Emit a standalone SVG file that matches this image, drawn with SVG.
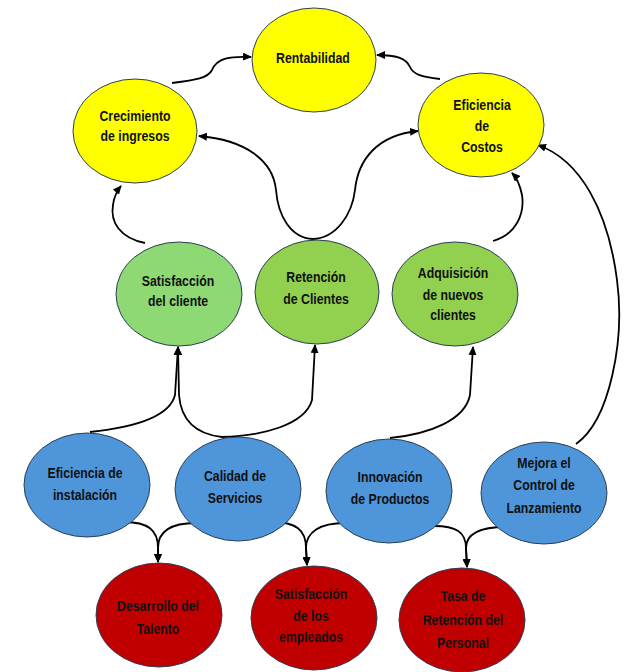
<svg xmlns="http://www.w3.org/2000/svg" width="624" height="672" viewBox="0 0 624 672">
<style>
.n{stroke:#2b3f55;stroke-width:1}
.y{fill:#ffff00}.g1{fill:#8ed973}.g2{fill:#92d050}.b{fill:#4e95d9}.r{fill:#c00000}
text{font-family:"Liberation Sans",Arial,sans-serif;font-weight:bold;font-size:15px;fill:#111;text-anchor:middle;transform:scaleX(0.82);transform-box:fill-box;transform-origin:center}
.c path{fill:none;stroke:#000;stroke-width:1.8;marker-end:url(#ah)}
</style>
<defs>
<marker id="ah" markerUnits="userSpaceOnUse" markerWidth="9" markerHeight="8" refX="8" refY="4" orient="auto">
<path d="M0,0 L9,4 L0,8 z" fill="#000"/>
</marker>
</defs>
<rect width="624" height="672" fill="#fff"/>
<g class="c" id="connectors">
<path d="M172,83 C196,80 208,78 212,70 C217,58 230,56 251,57"/>
<path d="M440,79 C421,77 413,74 410,67 C406,58 396,55 377,55"/>
<path d="M313,239 C290,238 278,215 276,190 C273,160 245,140 199,136"/>
<path d="M313,239 C336,238 352,215 355,190 C358,160 377,135 418,131"/>
<path d="M145,243 C120,238 110,222 113,205 C114,197 116,192 121,186"/>
<path d="M493,241 C515,235 525,215 522,195 C520,185 517,178 512,173"/>
<path d="M576,444 C610,420 625,340 617,280 C608,210 580,160 538,145"/>
<path d="M90,432 C138,427 170,415 175,395 L178,347"/>
<path d="M222,437 C195,434 181,420 179,395 L178,347"/>
<path d="M222,437 C262,436 305,425 312,400 L315,345"/>
<path d="M390,438 C430,434 465,420 470,395 L473,347"/>
<path d="M124,522 C148,522 158,530 158,548 L158,562"/>
<path d="M196,523 C170,523 158,532 158,548 L158,562"/>
<path d="M272,522 C296,522 306,530 306,548 L307,565"/>
<path d="M345,523 C320,523 306,532 306,548 L307,565"/>
<path d="M434,526 C456,526 466,532 466,548 L467,567"/>
<path d="M506,527 C480,527 466,534 466,548 L467,567"/>
</g>
<g id="rentabilidad"><ellipse class="n y" cx="314" cy="60" rx="62" ry="52"/><text x="313" y="63">Rentabilidad</text></g>
<g id="crecimiento"><ellipse class="n y" cx="135" cy="131" rx="62" ry="52"/><text x="135" y="121">Crecimiento</text><text x="135" y="141">de ingresos</text></g>
<g id="eficiencia-costos"><ellipse class="n y" cx="481" cy="125" rx="63" ry="52"/><text x="482" y="110">Eficiencia</text><text x="482" y="131">de</text><text x="482" y="152">Costos</text></g>
<g id="satisfaccion-cliente"><ellipse class="n g1" cx="179" cy="294" rx="63" ry="52"/><text x="178" y="286">Satisfacción</text><text x="178" y="306">del cliente</text></g>
<g id="retencion-clientes"><ellipse class="n g2" cx="317" cy="292" rx="62" ry="52"/><text x="316" y="282">Retención</text><text x="316" y="304">de Clientes</text></g>
<g id="adquisicion"><ellipse class="n g2" cx="455" cy="294" rx="63" ry="52"/><text x="453" y="278">Adquisición</text><text x="453" y="300">de nuevos</text><text x="453" y="320">clientes</text></g>
<g id="eficiencia-instalacion"><ellipse class="n b" cx="87" cy="485" rx="63" ry="52"/><text x="85" y="478">Eficiencia de</text><text x="85" y="500">instalación</text></g>
<g id="calidad-servicios"><ellipse class="n b" cx="238" cy="489" rx="63" ry="52"/><text x="235" y="481">Calidad de</text><text x="235" y="503">Servicios</text></g>
<g id="innovacion"><ellipse class="n b" cx="389" cy="491" rx="63" ry="52"/><text x="390" y="482">Innovación</text><text x="390" y="504">de Productos</text></g>
<g id="mejora-control"><ellipse class="n b" cx="544" cy="493" rx="63" ry="51"/><text x="544" y="468">Mejora el</text><text x="544" y="490">Control de</text><text x="544" y="513">Lanzamiento</text></g>
<g id="desarrollo-talento"><ellipse class="n r" cx="159" cy="615" rx="63" ry="52"/><text x="158" y="611">Desarrollo del</text><text x="158" y="634">Talento</text></g>
<g id="satisfaccion-empleados"><ellipse class="n r" cx="314" cy="618" rx="63" ry="52"/><text x="311" y="599">Satisfacción</text><text x="311" y="621">de los</text><text x="311" y="642">empleados</text></g>
<g id="tasa-retencion"><ellipse class="n r" cx="462" cy="620" rx="63" ry="52"/><text x="463" y="601">Tasa de</text><text x="463" y="625">Retención del</text><text x="463" y="648">Personal</text></g>
</svg>
